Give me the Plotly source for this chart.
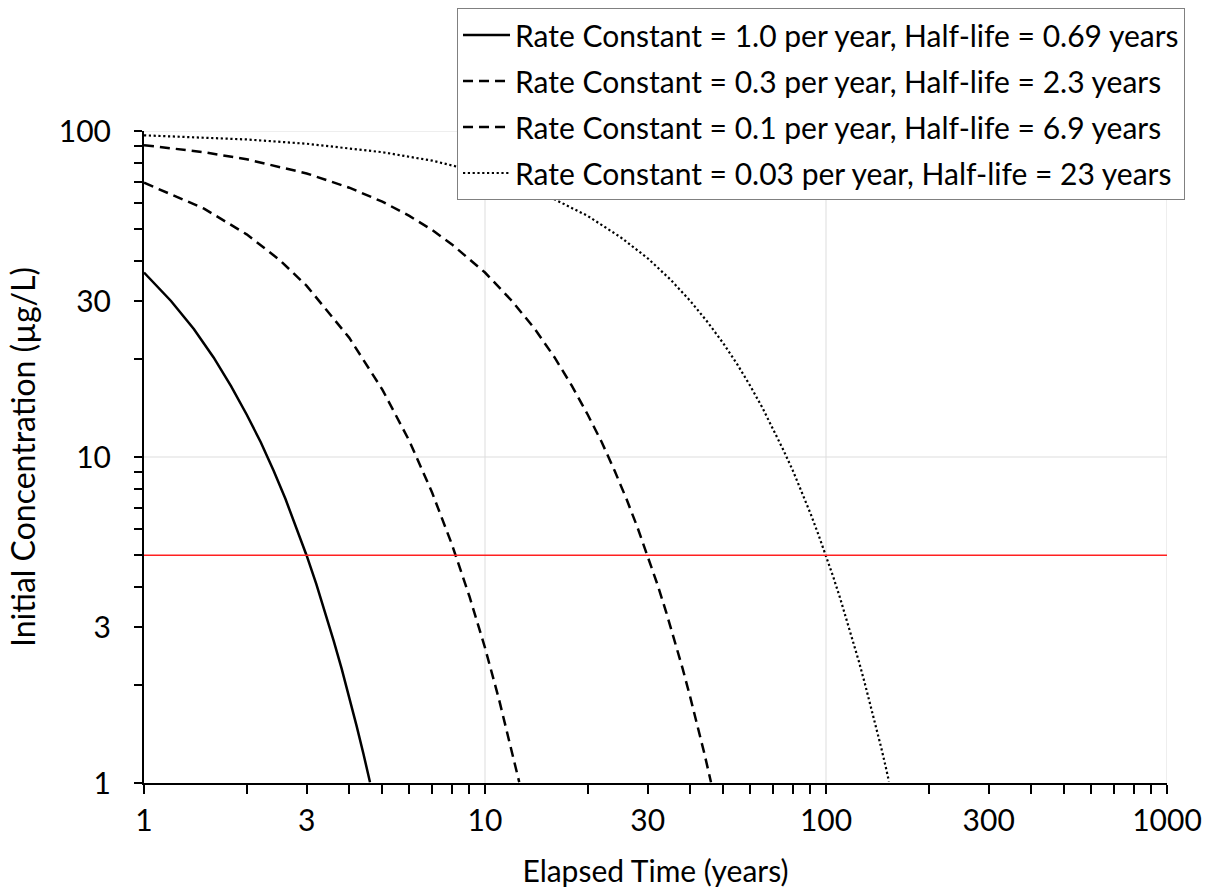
import plotly.graph_objects as go

# ---- data ----
t_k1 = [1.0, 1.2, 1.4, 1.6, 1.8, 2.0, 2.2, 2.4, 2.6, 2.8, 3.0, 3.2, 3.4, 3.6, 3.8, 4.0, 4.2, 4.4, 4.6]
c_k1 = [36.8, 30.1, 24.7, 20.2, 16.5, 13.5, 11.1, 9.07, 7.43, 6.08, 4.98, 4.08, 3.34, 2.73, 2.24, 1.83, 1.50, 1.23, 1.005]

t_k2 = [1, 1.5, 2, 2.5, 3, 4, 5, 6, 7, 8, 9, 10, 11, 12, 12.6]
c_k2 = [69.4, 57.8, 48.2, 40.2, 33.5, 23.2, 16.1, 11.2, 7.77, 5.39, 3.74, 2.60, 1.80, 1.25, 1.006]

t_k3 = [1, 1.5, 2, 3, 4, 5, 6, 7, 8, 10, 12, 14, 16, 18, 20, 22, 24, 26, 28, 30, 32, 34, 36, 38, 40, 42, 44, 46]
c_k3 = [90.5, 86.1, 81.9, 74.1, 67.0, 60.7, 54.9, 49.7, 44.9, 36.8, 30.1, 24.7, 20.2, 16.5, 13.5, 11.1, 9.07, 7.43,
        6.08, 4.98, 4.08, 3.34, 2.73, 2.24, 1.83, 1.50, 1.23, 1.005]

t_k4 = [1, 2, 3, 5, 7, 10, 15, 20, 25, 30, 35, 40, 45, 50, 55, 60, 65, 70, 75, 80, 85, 90, 95, 100,
        105, 110, 115, 120, 125, 130, 135, 140, 145, 150, 153]
c_k4 = [97.0, 94.2, 91.4, 86.1, 81.1, 74.1, 63.8, 54.9, 47.2, 40.7, 35.0, 30.1, 25.9, 22.3, 19.2, 16.5, 14.2,
        12.2, 10.5, 9.07, 7.81, 6.72, 5.78, 4.98, 4.29, 3.69, 3.17, 2.73, 2.35, 2.02, 1.74, 1.50, 1.29, 1.11, 1.01]

t_limit = [1, 1000]
c_limit = [5, 5]

series_names = [
    "Rate Constant = 1.0 per year, Half-life = 0.69 years",
    "Rate Constant = 0.3 per year, Half-life = 2.3 years",
    "Rate Constant = 0.1 per year, Half-life = 6.9 years",
    "Rate Constant = 0.03 per year, Half-life = 23 years",
]

x_tick_vals = [1, 3, 10, 30, 100, 300, 1000]
x_tick_text = ["1", "3", "10", "30", "100", "300", "1000"]
x_minor_vals = [2, 4, 5, 6, 7, 8, 9, 20, 40, 50, 60, 70, 80, 90, 200, 400, 500, 600, 700, 800, 900]
y_tick_vals = [1, 3, 10, 30, 100]
y_tick_text = ["1", "3", "10", "30", "100"]
y_minor_vals = [2, 4, 5, 6, 7, 8, 9, 20, 40, 50, 60, 70, 80, 90]
grid_x = [10, 100, 1000]
grid_y = [10, 100]

FONT = "Lato"
fig = go.Figure()

styles = [
    dict(color="black", width=2.5, dash="solid"),
    dict(color="black", width=2.5, dash="10px,6px"),
    dict(color="black", width=2.5, dash="10px,6px"),
    dict(color="black", width=2.2, dash="2.2px,2.6px"),
]
for i, (tx, cy) in enumerate([(t_k1, c_k1), (t_k2, c_k2), (t_k3, c_k3), (t_k4, c_k4)]):
    fig.add_trace(go.Scatter(x=tx, y=cy, mode="lines", name=series_names[i],
                             line=styles[i], legendgroup="g%d" % i))

fig.add_trace(go.Scatter(x=t_limit, y=c_limit, mode="lines", line=dict(color="#ff2020", width=1.5),
                         showlegend=False, hoverinfo="skip"))

shapes = []
for gx in grid_x:
    shapes.append(dict(type="line", xref="x", yref="paper", x0=gx, x1=gx, y0=0, y1=1,
                       line=dict(color="#dddddd", width=1), layer="below"))
for gy in grid_y:
    shapes.append(dict(type="line", xref="paper", yref="y", x0=0, x1=1, y0=gy, y1=gy,
                       line=dict(color="#dddddd", width=1), layer="below"))

fig.update_layout(
    width=1206, height=888,
    margin=dict(l=144, r=39, t=131, b=105, autoexpand=False),
    paper_bgcolor="white", plot_bgcolor="white",
    font=dict(family=FONT, size=30, color="black"),
    shapes=shapes,
    showlegend=True,
    legend=dict(xref="container", yref="container", x=0.9826, xanchor="right", y=0.991, yanchor="top",
                bgcolor="white", bordercolor="#808080", borderwidth=1,
                font=dict(family=FONT, size=30, color="black"),
                tracegroupgap=4, itemwidth=47),
    xaxis=dict(type="log", range=[0, 3], showline=True, linecolor="black", linewidth=2,
               tickvals=x_tick_vals, ticktext=x_tick_text, ticks="outside", ticklen=9,
               tickwidth=2, tickcolor="black", showgrid=False, zeroline=False,
               ticklabelstandoff=1, automargin=False,
               minor=dict(tickvals=x_minor_vals, ticks="outside", ticklen=9, tickwidth=2,
                          tickcolor="black", showgrid=False),
               title=dict(text="Elapsed Time (years)", font=dict(size=30), standoff=26)),
    yaxis=dict(type="log", range=[0, 2], showline=True, linecolor="black", linewidth=2,
               tickvals=y_tick_vals, ticktext=y_tick_text, ticks="outside", ticklen=8,
               tickwidth=2, tickcolor="black", showgrid=False, zeroline=False,
               ticklabelstandoff=17, automargin=False,
               minor=dict(tickvals=y_minor_vals, ticks="outside", ticklen=8, tickwidth=2,
                          tickcolor="black", showgrid=False),
               title=dict(text="Initial Concentration (µg/L)", font=dict(size=32), standoff=14)),
)

fig.write_html("out.html")
